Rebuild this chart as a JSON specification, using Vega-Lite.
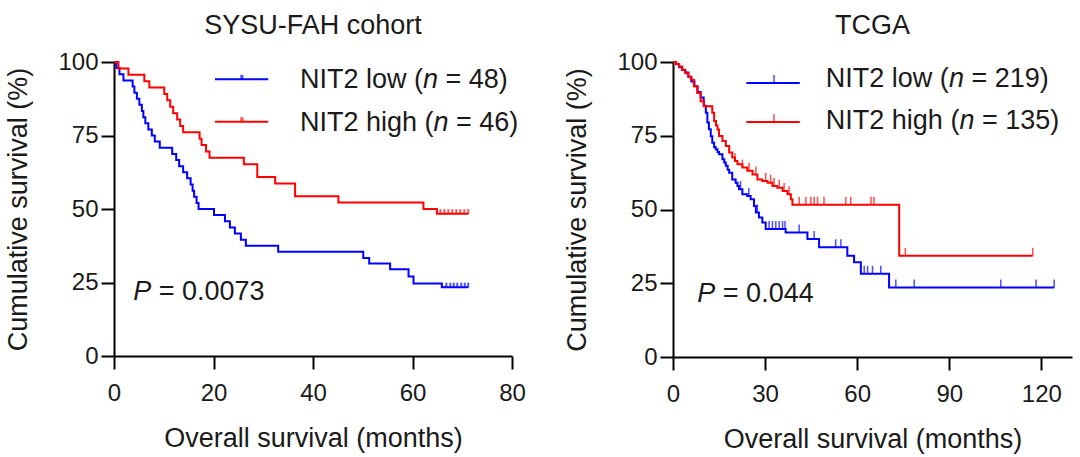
{
  "$schema": "https://vega.github.io/schema/vega-lite/v6.json",
  "background": "white",
  "padding": {"left": 4, "top": 12, "right": 5, "bottom": 5},
  "spacing": 37,
  "config": {
    "view": {"stroke": null},
    "font": "Liberation Sans",
    "axis": {
      "domainColor": "#000000", "domainWidth": 2, "tickColor": "#000000", "tickWidth": 2, "tickSize": 13,
      "grid": false, "labelFont": "Liberation Sans", "labelFontSize": 24, "labelColor": "#1a1a1a",
      "titleFont": "Liberation Sans", "titleFontSize": 27, "titleFontWeight": "normal", "titleColor": "#1a1a1a",
      "labelFlush": false
    },
    "axisX": {"labelPadding": 12, "titlePadding": 20},
    "axisY": {"labelPadding": 3, "titlePadding": 25},
    "title": {"font": "Liberation Sans", "fontSize": 27, "fontWeight": "normal", "color": "#1a1a1a", "offset": 10, "anchor": "middle"}
  },
  "datasets": {
    "sysu": [
      {"group": "low", "month": 0, "surv": 100},
      {"group": "low", "month": 0.5, "surv": 97.92},
      {"group": "low", "month": 1.1, "surv": 95.83},
      {"group": "low", "month": 1.9, "surv": 93.75},
      {"group": "low", "month": 3.75, "surv": 91.67},
      {"group": "low", "month": 4.1, "surv": 89.58},
      {"group": "low", "month": 4.6, "surv": 87.5},
      {"group": "low", "month": 5.1, "surv": 85.42},
      {"group": "low", "month": 5.6, "surv": 83.33},
      {"group": "low", "month": 5.9, "surv": 81.25},
      {"group": "low", "month": 6.3, "surv": 79.17},
      {"group": "low", "month": 6.9, "surv": 77.08},
      {"group": "low", "month": 7.6, "surv": 75.0},
      {"group": "low", "month": 8.2, "surv": 72.92},
      {"group": "low", "month": 9.2, "surv": 70.83},
      {"group": "low", "month": 11.7, "surv": 68.75},
      {"group": "low", "month": 12.5, "surv": 66.67},
      {"group": "low", "month": 13.1, "surv": 64.58},
      {"group": "low", "month": 13.9, "surv": 62.5},
      {"group": "low", "month": 14.7, "surv": 60.42},
      {"group": "low", "month": 15.4, "surv": 58.33},
      {"group": "low", "month": 15.8, "surv": 56.25},
      {"group": "low", "month": 16.1, "surv": 54.17},
      {"group": "low", "month": 16.6, "surv": 52.08},
      {"group": "low", "month": 17.0, "surv": 50.0},
      {"group": "low", "month": 20.1, "surv": 47.92},
      {"group": "low", "month": 22.3, "surv": 45.83},
      {"group": "low", "month": 23.3, "surv": 43.75},
      {"group": "low", "month": 24.3, "surv": 41.67},
      {"group": "low", "month": 25.5, "surv": 39.58},
      {"group": "low", "month": 26.5, "surv": 37.5},
      {"group": "low", "month": 33.0, "surv": 35.42},
      {"group": "low", "month": 50.1, "surv": 33.3},
      {"group": "low", "month": 51.3, "surv": 31.5},
      {"group": "low", "month": 55.5, "surv": 29.5},
      {"group": "low", "month": 59.2, "surv": 27.0},
      {"group": "low", "month": 60.2, "surv": 24.7},
      {"group": "low", "month": 65.9, "surv": 23.4},
      {"group": "low", "month": 71.2, "surv": 23.4},
      {"group": "high", "month": 0, "surv": 100},
      {"group": "high", "month": 0.9, "surv": 97.83},
      {"group": "high", "month": 2.9, "surv": 95.65},
      {"group": "high", "month": 6.1, "surv": 93.48},
      {"group": "high", "month": 7.1, "surv": 91.3},
      {"group": "high", "month": 10.1, "surv": 89.13},
      {"group": "high", "month": 10.7, "surv": 86.96},
      {"group": "high", "month": 11.3, "surv": 84.78},
      {"group": "high", "month": 11.9, "surv": 82.61},
      {"group": "high", "month": 12.7, "surv": 80.43},
      {"group": "high", "month": 13.3, "surv": 78.26},
      {"group": "high", "month": 13.9, "surv": 76.09},
      {"group": "high", "month": 17.2, "surv": 73.91},
      {"group": "high", "month": 17.6, "surv": 71.74},
      {"group": "high", "month": 18.5, "surv": 69.57},
      {"group": "high", "month": 19.2, "surv": 67.39},
      {"group": "high", "month": 26.1, "surv": 65.22},
      {"group": "high", "month": 28.8, "surv": 60.87},
      {"group": "high", "month": 32.4, "surv": 58.7},
      {"group": "high", "month": 36.4, "surv": 54.35},
      {"group": "high", "month": 45.1, "surv": 52.17},
      {"group": "high", "month": 62.2, "surv": 50.0},
      {"group": "high", "month": 64.9, "surv": 48.4},
      {"group": "high", "month": 71.2, "surv": 48.4}
    ],
    "sysu_censor": [
      {"group": "low", "month": 66.8, "surv": 23.4},
      {"group": "low", "month": 67.6, "surv": 23.4},
      {"group": "low", "month": 68.3, "surv": 23.4},
      {"group": "low", "month": 69.0, "surv": 23.4},
      {"group": "low", "month": 69.8, "surv": 23.4},
      {"group": "low", "month": 70.5, "surv": 23.4},
      {"group": "low", "month": 71.2, "surv": 23.4},
      {"group": "high", "month": 65.6, "surv": 48.4},
      {"group": "high", "month": 66.4, "surv": 48.4},
      {"group": "high", "month": 67.2, "surv": 48.4},
      {"group": "high", "month": 68.0, "surv": 48.4},
      {"group": "high", "month": 68.8, "surv": 48.4},
      {"group": "high", "month": 69.6, "surv": 48.4},
      {"group": "high", "month": 70.4, "surv": 48.4},
      {"group": "high", "month": 71.2, "surv": 48.4}
    ],
    "sysu_legend": [
      {"group": "low", "month": 20.3, "month2": 31.0, "surv": 94.1},
      {"group": "high", "month": 20.3, "month2": 31.0, "surv": 79.7}
    ],
    "sysu_marker": [
      {"group": "low", "month": 25.7, "surv": 94.1},
      {"group": "high", "month": 25.7, "surv": 79.7}
    ],
    "sysu_text": [
      {"month": 37.39, "surv": 91.05, "label": "NIT2 low ("},
      {"month": 66.63, "surv": 91.05, "label": "= 48)"},
      {"month": 37.39, "surv": 76.5, "label": "NIT2 high ("},
      {"month": 68.74, "surv": 76.5, "label": "= 46)"},
      {"month": 9.0, "surv": 19.2, "label": "= 0.0073"}
    ],
    "sysu_italic": [
      {"month": 62.11, "surv": 91.05, "label": "n"},
      {"month": 64.22, "surv": 76.5, "label": "n"},
      {"month": 3.88, "surv": 19.2, "label": "P"}
    ],
    "tcga": [
      {"group": "low", "month": 0, "surv": 100},
      {"group": "low", "month": 1, "surv": 99.2},
      {"group": "low", "month": 2, "surv": 98.2},
      {"group": "low", "month": 3, "surv": 97.3},
      {"group": "low", "month": 4, "surv": 96.4},
      {"group": "low", "month": 5, "surv": 95.0},
      {"group": "low", "month": 6, "surv": 93.4},
      {"group": "low", "month": 7, "surv": 91.8},
      {"group": "low", "month": 8, "surv": 89.8},
      {"group": "low", "month": 9, "surv": 88.0},
      {"group": "low", "month": 10, "surv": 85.2},
      {"group": "low", "month": 10.7, "surv": 82.8},
      {"group": "low", "month": 11.2, "surv": 79.5},
      {"group": "low", "month": 11.7, "surv": 77.2},
      {"group": "low", "month": 12.3, "surv": 74.8},
      {"group": "low", "month": 12.8, "surv": 72.6},
      {"group": "low", "month": 13.4, "surv": 71.2},
      {"group": "low", "month": 13.9, "surv": 70.4},
      {"group": "low", "month": 14.5, "surv": 69.5},
      {"group": "low", "month": 15.0, "surv": 68.7},
      {"group": "low", "month": 16.1, "surv": 67.0},
      {"group": "low", "month": 16.7, "surv": 65.9},
      {"group": "low", "month": 17.2, "surv": 64.8},
      {"group": "low", "month": 17.8, "surv": 63.5},
      {"group": "low", "month": 18.3, "surv": 62.5},
      {"group": "low", "month": 19.3, "surv": 60.2},
      {"group": "low", "month": 20.4, "surv": 59.1},
      {"group": "low", "month": 21.0, "surv": 58.0},
      {"group": "low", "month": 21.5, "surv": 56.9},
      {"group": "low", "month": 22.6, "surv": 55.2},
      {"group": "low", "month": 24.2, "surv": 54.6},
      {"group": "low", "month": 25.3, "surv": 53.5},
      {"group": "low", "month": 26.4, "surv": 51.2},
      {"group": "low", "month": 27.0, "surv": 49.0},
      {"group": "low", "month": 28.0, "surv": 47.3},
      {"group": "low", "month": 29.1, "surv": 45.6},
      {"group": "low", "month": 30.2, "surv": 43.4},
      {"group": "low", "month": 36.7, "surv": 42.2},
      {"group": "low", "month": 43.8, "surv": 40.0},
      {"group": "low", "month": 47.6, "surv": 37.2},
      {"group": "low", "month": 56.8, "surv": 34.3},
      {"group": "low", "month": 59.0, "surv": 32.1},
      {"group": "low", "month": 61.2, "surv": 28.2},
      {"group": "low", "month": 70.4, "surv": 23.6},
      {"group": "low", "month": 124.2, "surv": 23.6},
      {"group": "high", "month": 0, "surv": 100},
      {"group": "high", "month": 1, "surv": 99.3},
      {"group": "high", "month": 2, "surv": 98.5},
      {"group": "high", "month": 3, "surv": 97.4},
      {"group": "high", "month": 4, "surv": 96.2},
      {"group": "high", "month": 5, "surv": 95.0},
      {"group": "high", "month": 5.8, "surv": 94.0},
      {"group": "high", "month": 6.8, "surv": 91.8},
      {"group": "high", "month": 7.9, "surv": 89.5},
      {"group": "high", "month": 9.0, "surv": 86.7},
      {"group": "high", "month": 10.1, "surv": 85.0},
      {"group": "high", "month": 12.8, "surv": 82.8},
      {"group": "high", "month": 13.4, "surv": 80.0},
      {"group": "high", "month": 14.0, "surv": 78.5},
      {"group": "high", "month": 14.5, "surv": 77.1},
      {"group": "high", "month": 15.0, "surv": 74.9},
      {"group": "high", "month": 16.1, "surv": 73.2},
      {"group": "high", "month": 17.2, "surv": 71.5},
      {"group": "high", "month": 18.3, "surv": 69.3},
      {"group": "high", "month": 19.3, "surv": 67.6},
      {"group": "high", "month": 20.2, "surv": 66.4},
      {"group": "high", "month": 21.0, "surv": 65.3},
      {"group": "high", "month": 22.6, "surv": 64.2},
      {"group": "high", "month": 24.2, "surv": 63.1},
      {"group": "high", "month": 25.9, "surv": 61.9},
      {"group": "high", "month": 27.5, "surv": 60.2},
      {"group": "high", "month": 29.1, "surv": 59.7},
      {"group": "high", "month": 30.8, "surv": 59.1},
      {"group": "high", "month": 32.4, "surv": 58.0},
      {"group": "high", "month": 34.0, "surv": 57.4},
      {"group": "high", "month": 35.7, "surv": 56.3},
      {"group": "high", "month": 37.3, "surv": 55.2},
      {"group": "high", "month": 38.4, "surv": 53.5},
      {"group": "high", "month": 38.9, "surv": 51.6},
      {"group": "high", "month": 73.7, "surv": 34.3},
      {"group": "high", "month": 117.2, "surv": 34.3}
    ],
    "tcga_censor": [
      {"group": "low", "month": 22.0, "surv": 56.9},
      {"group": "low", "month": 24.7, "surv": 54.6},
      {"group": "low", "month": 27.5, "surv": 49.0},
      {"group": "low", "month": 31.3, "surv": 43.4},
      {"group": "low", "month": 32.4, "surv": 43.4},
      {"group": "low", "month": 33.5, "surv": 43.4},
      {"group": "low", "month": 34.6, "surv": 43.4},
      {"group": "low", "month": 35.7, "surv": 43.4},
      {"group": "low", "month": 36.5, "surv": 43.4},
      {"group": "low", "month": 41.1, "surv": 42.2},
      {"group": "low", "month": 46.0, "surv": 40.0},
      {"group": "low", "month": 53.0, "surv": 37.2},
      {"group": "low", "month": 54.7, "surv": 37.2},
      {"group": "low", "month": 62.3, "surv": 28.2},
      {"group": "low", "month": 63.4, "surv": 28.2},
      {"group": "low", "month": 65.0, "surv": 28.2},
      {"group": "low", "month": 67.7, "surv": 28.2},
      {"group": "low", "month": 72.6, "surv": 23.6},
      {"group": "low", "month": 78.6, "surv": 23.6},
      {"group": "low", "month": 106.8, "surv": 23.6},
      {"group": "low", "month": 118.3, "surv": 23.6},
      {"group": "low", "month": 124.2, "surv": 23.6},
      {"group": "high", "month": 20.2, "surv": 66.4},
      {"group": "high", "month": 22.6, "surv": 64.2},
      {"group": "high", "month": 24.8, "surv": 63.1},
      {"group": "high", "month": 27.0, "surv": 61.9},
      {"group": "high", "month": 30.2, "surv": 59.7},
      {"group": "high", "month": 31.8, "surv": 59.1},
      {"group": "high", "month": 32.9, "surv": 58.0},
      {"group": "high", "month": 34.6, "surv": 57.4},
      {"group": "high", "month": 36.2, "surv": 56.3},
      {"group": "high", "month": 37.8, "surv": 55.2},
      {"group": "high", "month": 41.1, "surv": 51.6},
      {"group": "high", "month": 43.3, "surv": 51.6},
      {"group": "high", "month": 44.9, "surv": 51.6},
      {"group": "high", "month": 46.0, "surv": 51.6},
      {"group": "high", "month": 47.1, "surv": 51.6},
      {"group": "high", "month": 49.2, "surv": 51.6},
      {"group": "high", "month": 56.3, "surv": 51.6},
      {"group": "high", "month": 57.9, "surv": 51.6},
      {"group": "high", "month": 64.5, "surv": 51.6},
      {"group": "high", "month": 65.5, "surv": 51.6},
      {"group": "high", "month": 75.7, "surv": 34.3},
      {"group": "high", "month": 117.2, "surv": 34.3}
    ],
    "tcga_legend": [
      {"group": "low", "month": 23.9, "month2": 41.3, "surv": 92.9},
      {"group": "high", "month": 23.9, "month2": 41.3, "surv": 79.7}
    ],
    "tcga_marker": [
      {"group": "low", "month": 32.9, "surv": 92.9},
      {"group": "high", "month": 32.9, "surv": 79.7}
    ],
    "tcga_text": [
      {"month": 49.79, "surv": 91.45, "label": "NIT2 low ("},
      {"month": 97.23, "surv": 91.45, "label": "= 219)"},
      {"month": 49.79, "surv": 77.4, "label": "NIT2 high ("},
      {"month": 100.65, "surv": 77.4, "label": "= 135)"},
      {"month": 16.24, "surv": 18.8, "label": "= 0.044"}
    ],
    "tcga_italic": [
      {"month": 89.9, "surv": 91.45, "label": "n"},
      {"month": 93.32, "surv": 77.4, "label": "n"},
      {"month": 7.92, "surv": 18.8, "label": "P"}
    ]
  },
  "hconcat": [
    {
      "width": 398,
      "height": 294,
      "title": {"text": "SYSU-FAH cohort"},
      "encoding": {
        "x": {"field": "month", "type": "quantitative", "scale": {"domain": [0, 80], "nice": false}, "axis": {"title": "Overall survival (months)", "values": [0, 20, 40, 60, 80]}},
        "y": {"field": "surv", "type": "quantitative", "scale": {"domain": [0, 100], "nice": false}, "axis": {"title": "Cumulative survival (%)", "values": [0, 25, 50, 75, 100]}}
      },
      "layer": [
        {
          "data": {"name": "sysu"},
          "mark": {"type": "line", "interpolate": "step-after", "strokeWidth": 2},
          "encoding": {"color": {"field": "group", "type": "nominal", "scale": {"domain": ["low", "high"], "range": ["#0000ff", "#ff0000"]}, "legend": null}}
        },
        {
          "data": {"name": "sysu_censor"},
          "mark": {"type": "tick", "orient": "vertical", "size": 5, "thickness": 2, "yOffset": -2},
          "encoding": {"color": {"field": "group", "type": "nominal", "scale": {"domain": ["low", "high"], "range": ["#0000ff", "#ff0000"]}, "legend": null}}
        },
        {
          "data": {"name": "sysu_legend"},
          "mark": {"type": "rule", "strokeWidth": 2},
          "encoding": {"x2": {"field": "month2"}, "color": {"field": "group", "type": "nominal", "scale": {"domain": ["low", "high"], "range": ["#0000ff", "#ff0000"]}, "legend": null}}
        },
        {
          "data": {"name": "sysu_marker"},
          "mark": {"type": "tick", "orient": "vertical", "size": 5, "thickness": 3, "yOffset": -2},
          "encoding": {"color": {"field": "group", "type": "nominal", "scale": {"domain": ["low", "high"], "range": ["#0000ff", "#ff0000"]}, "legend": null}}
        },
        {
          "data": {"name": "sysu_text"},
          "mark": {"type": "text", "align": "left", "baseline": "alphabetic", "fontSize": 27, "font": "Liberation Sans", "color": "#1a1a1a"},
          "encoding": {"text": {"field": "label"}}
        },
        {
          "data": {"name": "sysu_italic"},
          "mark": {"type": "text", "align": "left", "baseline": "alphabetic", "fontSize": 27, "font": "Liberation Sans", "fontStyle": "italic", "color": "#1a1a1a"},
          "encoding": {"text": {"field": "label"}}
        }
      ]
    },
    {
      "width": 399,
      "height": 295,
      "title": {"text": "TCGA"},
      "encoding": {
        "x": {"field": "month", "type": "quantitative", "scale": {"domain": [0, 130], "nice": false}, "axis": {"title": "Overall survival (months)", "values": [0, 30, 60, 90, 120]}},
        "y": {"field": "surv", "type": "quantitative", "scale": {"domain": [0, 100], "nice": false}, "axis": {"title": "Cumulative survival (%)", "values": [0, 25, 50, 75, 100]}}
      },
      "layer": [
        {
          "data": {"name": "tcga"},
          "mark": {"type": "line", "interpolate": "step-after", "strokeWidth": 2},
          "encoding": {"color": {"field": "group", "type": "nominal", "scale": {"domain": ["low", "high"], "range": ["#0000ff", "#ff0000"]}, "legend": null}}
        },
        {
          "data": {"name": "tcga_censor"},
          "mark": {"type": "tick", "orient": "vertical", "size": 8, "thickness": 1.5, "yOffset": -4},
          "encoding": {"color": {"field": "group", "type": "nominal", "scale": {"domain": ["low", "high"], "range": ["#0000ff", "#ff0000"]}, "legend": null}}
        },
        {
          "data": {"name": "tcga_legend"},
          "mark": {"type": "rule", "strokeWidth": 2},
          "encoding": {"x2": {"field": "month2"}, "color": {"field": "group", "type": "nominal", "scale": {"domain": ["low", "high"], "range": ["#0000ff", "#ff0000"]}, "legend": null}}
        },
        {
          "data": {"name": "tcga_marker"},
          "mark": {"type": "tick", "orient": "vertical", "size": 8, "thickness": 1.5, "yOffset": -4},
          "encoding": {"color": {"field": "group", "type": "nominal", "scale": {"domain": ["low", "high"], "range": ["#0000ff", "#ff0000"]}, "legend": null}}
        },
        {
          "data": {"name": "tcga_text"},
          "mark": {"type": "text", "align": "left", "baseline": "alphabetic", "fontSize": 27, "font": "Liberation Sans", "color": "#1a1a1a"},
          "encoding": {"text": {"field": "label"}}
        },
        {
          "data": {"name": "tcga_italic"},
          "mark": {"type": "text", "align": "left", "baseline": "alphabetic", "fontSize": 27, "font": "Liberation Sans", "fontStyle": "italic", "color": "#1a1a1a"},
          "encoding": {"text": {"field": "label"}}
        }
      ]
    }
  ]
}
